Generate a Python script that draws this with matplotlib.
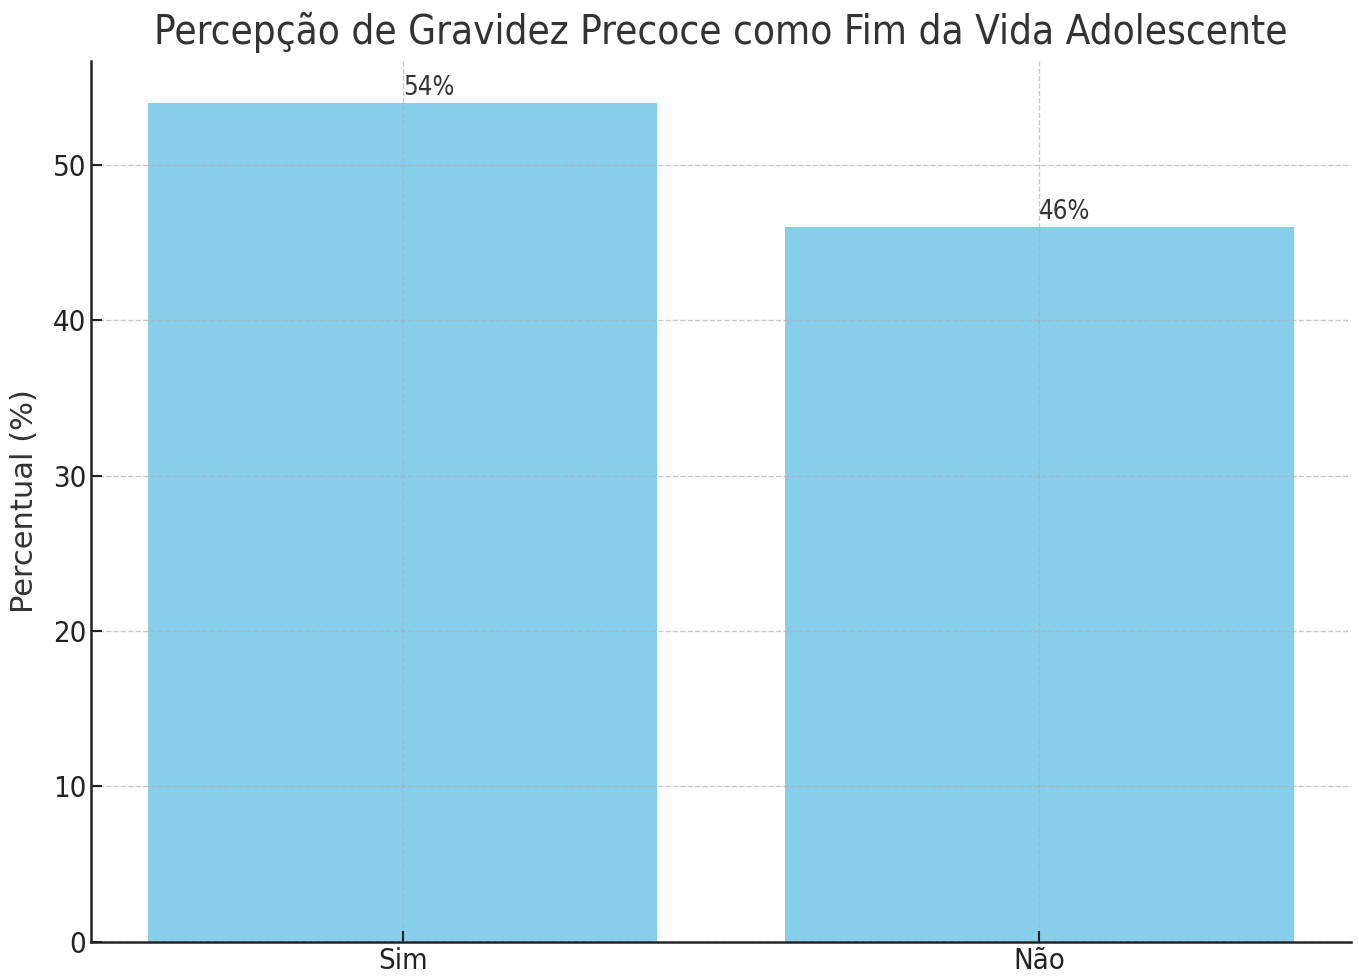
import os
import matplotlib
matplotlib.use("Agg")
import matplotlib.pyplot as plt
from matplotlib.font_manager import FontProperties

categories = ["Sim", "Não"]
percentages = [54, 46]
title = "Percepção de Gravidez Precoce como Fim da Vida Adolescente"

# regular-width DejaVu for the y label (the rest of the text is condensed)
dv_path = os.path.join(matplotlib.get_data_path(), "fonts", "ttf", "DejaVuSans.ttf")
ylabel_font = FontProperties(fname=dv_path, size=22)

fig, ax = plt.subplots(figsize=(13.59, 9.8), dpi=100)
ax.bar(categories, percentages, color="skyblue", width=0.8, zorder=1)

for i, v in enumerate(percentages):
    ax.text(i, v + 0.1, f"{v}%", ha="left", va="bottom", fontsize=18.5,
            color="#333333", fontstretch="condensed", family="DejaVu Sans")

ax.set_title(title, fontsize=29, color="#333333", fontstretch="condensed",
             family="DejaVu Sans", pad=12)
ax.set_ylabel("Percentual (%)", color="#333333", fontproperties=ylabel_font,
              labelpad=10)
ax.grid(True, linestyle="--", color="#b0b0b0", alpha=0.7, linewidth=1, zorder=2)
ax.set_axisbelow(False)

for s in ["top", "right"]:
    ax.spines[s].set_visible(False)
for s in ["left", "bottom"]:
    ax.spines[s].set_linewidth(1.8)
    ax.spines[s].set_color("#222222")

ax.tick_params(direction="in", width=1.5, length=8, labelsize=21, colors="#222222")
for lbl in ax.get_xticklabels() + ax.get_yticklabels():
    lbl.set_fontstretch("condensed")

fig.subplots_adjust(left=0.067, right=0.994, bottom=0.039, top=0.938)
fig.savefig("out.png")
